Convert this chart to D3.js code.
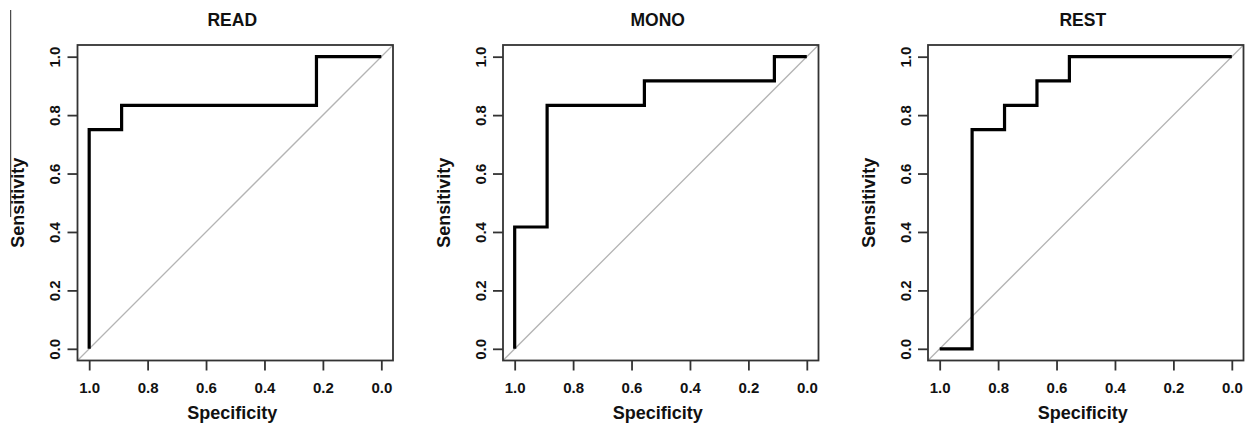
<!DOCTYPE html>
<html>
<head>
<meta charset="utf-8">
<script src="https://cdn.jsdelivr.net/npm/d3@7"></script>
<style>
  html, body { margin: 0; padding: 0; background: #fff; }
  svg { display: block; }
  text { font-family: "Liberation Sans", Arial, sans-serif; fill: #111; }
</style>
</head>
<body>
<svg id="chart" width="1246" height="432"></svg>
<script>
// ---- data ----
const panelTitles = ["READ", "MONO", "REST"];
const readSpecificity = [1, 1, 0.889, 0.889, 0.222, 0.222, 0];
const readSensitivity = [0, 0.75, 0.75, 0.833, 0.833, 1, 1];
const monoSpecificity = [1, 1, 0.889, 0.889, 0.556, 0.556, 0.111, 0.111, 0];
const monoSensitivity = [0, 0.417, 0.417, 0.833, 0.833, 0.917, 0.917, 1, 1];
const restSpecificity = [1, 0.889, 0.889, 0.778, 0.778, 0.667, 0.667, 0.556, 0.556, 0];
const restSensitivity = [0, 0, 0.75, 0.75, 0.833, 0.833, 0.917, 0.917, 1, 1];
const tickValues = [0, 0.2, 0.4, 0.6, 0.8, 1.0];
const xLabel = "Specificity";
const yLabel = "Sensitivity";

const series = [
  { spec: readSpecificity, sens: readSensitivity },
  { spec: monoSpecificity, sens: monoSensitivity },
  { spec: restSpecificity, sens: restSensitivity }
];

// ---- layout ----
const svg = d3.select("#chart");
const boxLefts = [77.5, 503, 928];
const boxTop = 45, boxSize = 315.5;
const fmt = d3.format(".1f");

// stray rule at far left of the original figure
svg.append("line")
  .attr("x1", 10.7).attr("x2", 10.7).attr("y1", 10).attr("y2", 217)
  .attr("stroke", "#222").attr("stroke-width", 1);

series.forEach((s, i) => {
  const left = boxLefts[i];
  const g = svg.append("g").attr("transform", `translate(${left},${boxTop})`);
  const x = d3.scaleLinear().domain([1.04, -0.04]).range([0, boxSize]);
  const y = d3.scaleLinear().domain([-0.04, 1.04]).range([boxSize, 0]);

  // diagonal reference line
  g.append("line")
    .attr("x1", x(1.04)).attr("y1", y(-0.04))
    .attr("x2", x(-0.04)).attr("y2", y(1.04))
    .attr("stroke", "#b4b4b4").attr("stroke-width", 1.3);

  // ROC curve
  const pts = s.spec.map((v, k) => [v, s.sens[k]]);
  g.append("path")
    .datum(pts)
    .attr("d", d3.line().x(d => x(d[0])).y(d => y(d[1])))
    .attr("fill", "none")
    .attr("stroke", "#000")
    .attr("stroke-width", 3.2)
    .attr("stroke-linejoin", "miter")
    .attr("stroke-linecap", "butt");

  // box
  g.append("rect")
    .attr("x", 0).attr("y", 0).attr("width", boxSize).attr("height", boxSize)
    .attr("fill", "none").attr("stroke", "#333").attr("stroke-width", 1.8);

  // x axis
  const xa = g.append("g").attr("transform", `translate(0,${boxSize})`)
    .call(d3.axisBottom(x).tickValues(tickValues).tickFormat(fmt).tickSize(10).tickSizeOuter(0));
  xa.select(".domain").remove();
  xa.selectAll(".tick line").attr("stroke", "#333").attr("stroke-width", 1.8);
  xa.selectAll(".tick text")
    .attr("y", 32.5).attr("dy", null)
    .style("font-size", "15px").style("font-weight", "bold").attr("fill", "#111");

  // y axis
  const ya = g.append("g")
    .call(d3.axisLeft(y).tickValues(tickValues).tickFormat(fmt).tickSize(10).tickSizeOuter(0));
  ya.select(".domain").remove();
  ya.selectAll(".tick line").attr("stroke", "#333").attr("stroke-width", 1.8);
  ya.selectAll(".tick text")
    .attr("x", null).attr("dy", null)
    .attr("transform", "translate(-17.5,0) rotate(-90)")
    .attr("text-anchor", "middle")
    .style("font-size", "15px").style("font-weight", "bold").attr("fill", "#111");

  // title
  g.append("text")
    .attr("x", boxSize / 2 - 3).attr("y", 26 - boxTop)
    .attr("text-anchor", "middle")
    .style("font-size", "17.5px").style("font-weight", "bold")
    .text(panelTitles[i]);

  // axis labels
  g.append("text")
    .attr("x", boxSize / 2 - 3).attr("y", 422.5 - boxTop - 4)
    .attr("text-anchor", "middle")
    .style("font-size", "18px").style("font-weight", "bold")
    .text(xLabel);

  g.append("text")
    .attr("transform", `translate(-53.5,${boxSize / 2}) rotate(-90)`)
    .attr("text-anchor", "middle")
    .style("font-size", "18px").style("font-weight", "bold")
    .text(yLabel);
});
</script>
</body>
</html>
